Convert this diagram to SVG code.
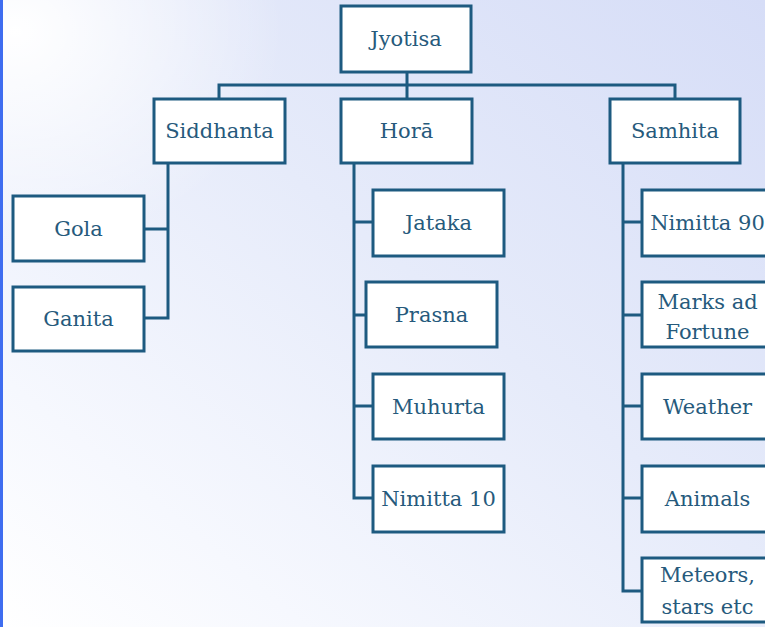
<svg xmlns="http://www.w3.org/2000/svg" width="765" height="627" viewBox="0 0 765 627">
<defs>
<linearGradient id="bg" x1="1" y1="0" x2="0" y2="1">
<stop offset="0" stop-color="#d6ddf7"/>
<stop offset="0.45" stop-color="#e6ebfa"/>
<stop offset="0.8" stop-color="#f6f8fe"/>
<stop offset="1" stop-color="#ffffff"/>
</linearGradient>
<radialGradient id="glow" cx="0.02" cy="0.05" r="0.35">
<stop offset="0" stop-color="#ffffff" stop-opacity="1"/>
<stop offset="1" stop-color="#ffffff" stop-opacity="0"/>
</radialGradient>
<style>
.box{fill:#ffffff;stroke:#1d5a80;stroke-width:3}
.conn{fill:none;stroke:#1d5a80;stroke-width:3}
text{font-family:"DejaVu Serif","Liberation Serif",serif;font-size:21px;fill:#265a7c;text-anchor:middle}
</style>
</defs>
<rect x="0" y="0" width="765" height="627" fill="url(#bg)"/>
<rect x="0" y="0" width="765" height="627" fill="url(#glow)"/>
<rect x="0" y="0" width="3" height="627" fill="#3f6df0"/>
<g id="connectors">
<path class="conn" d="M407 72 V99 M219 99 V85 H675 V99"/>
<path class="conn" d="M168 163 V318 H144 M168 229 H144"/>
<path class="conn" d="M354 163 V498 H373 M354 222 H373 M354 315 H366 M354 406 H373"/>
<path class="conn" d="M623 163 V591 H642 M623 222 H642 M623 315 H642 M623 406 H642 M623 498 H642"/>
</g>
<g id="jyotisa"><rect class="box" x="341" y="6" width="130" height="66"/><text x="406" y="46">Jyotisa</text></g>
<g id="siddhanta"><rect class="box" x="154" y="99" width="131" height="64"/><text x="219.5" y="138">Siddhanta</text></g>
<g id="hora"><rect class="box" x="341" y="99" width="131" height="64"/><text x="406.5" y="138">Horā</text></g>
<g id="samhita"><rect class="box" x="610" y="99" width="130" height="64"/><text x="675" y="138">Samhita</text></g>
<g id="gola"><rect class="box" x="13" y="196" width="131" height="65"/><text x="78.5" y="236">Gola</text></g>
<g id="ganita"><rect class="box" x="13" y="287" width="131" height="64"/><text x="78.5" y="326">Ganita</text></g>
<g id="jataka"><rect class="box" x="373" y="190" width="131" height="66"/><text x="438.5" y="230">Jataka</text></g>
<g id="prasna"><rect class="box" x="366" y="282" width="131" height="65"/><text x="431.5" y="322">Prasna</text></g>
<g id="muhurta"><rect class="box" x="373" y="374" width="131" height="65"/><text x="438.5" y="414">Muhurta</text></g>
<g id="nimitta10"><rect class="box" x="373" y="466" width="131" height="66"/><text x="438.5" y="506">Nimitta 10</text></g>
<g id="nimitta90"><rect class="box" x="642" y="190" width="131" height="66"/><text x="707.5" y="230">Nimitta 90</text></g>
<g id="marks"><rect class="box" x="642" y="282" width="131" height="65"/><text x="707.5" y="309">Marks ad</text><text x="707.5" y="339">Fortune</text></g>
<g id="weather"><rect class="box" x="642" y="374" width="131" height="65"/><text x="707.5" y="414">Weather</text></g>
<g id="animals"><rect class="box" x="642" y="466" width="131" height="66"/><text x="707.5" y="506">Animals</text></g>
<g id="meteors"><rect class="box" x="642" y="558" width="131" height="64"/><text x="707.5" y="582">Meteors,</text><text x="707.5" y="614">stars etc</text></g>
</svg>
